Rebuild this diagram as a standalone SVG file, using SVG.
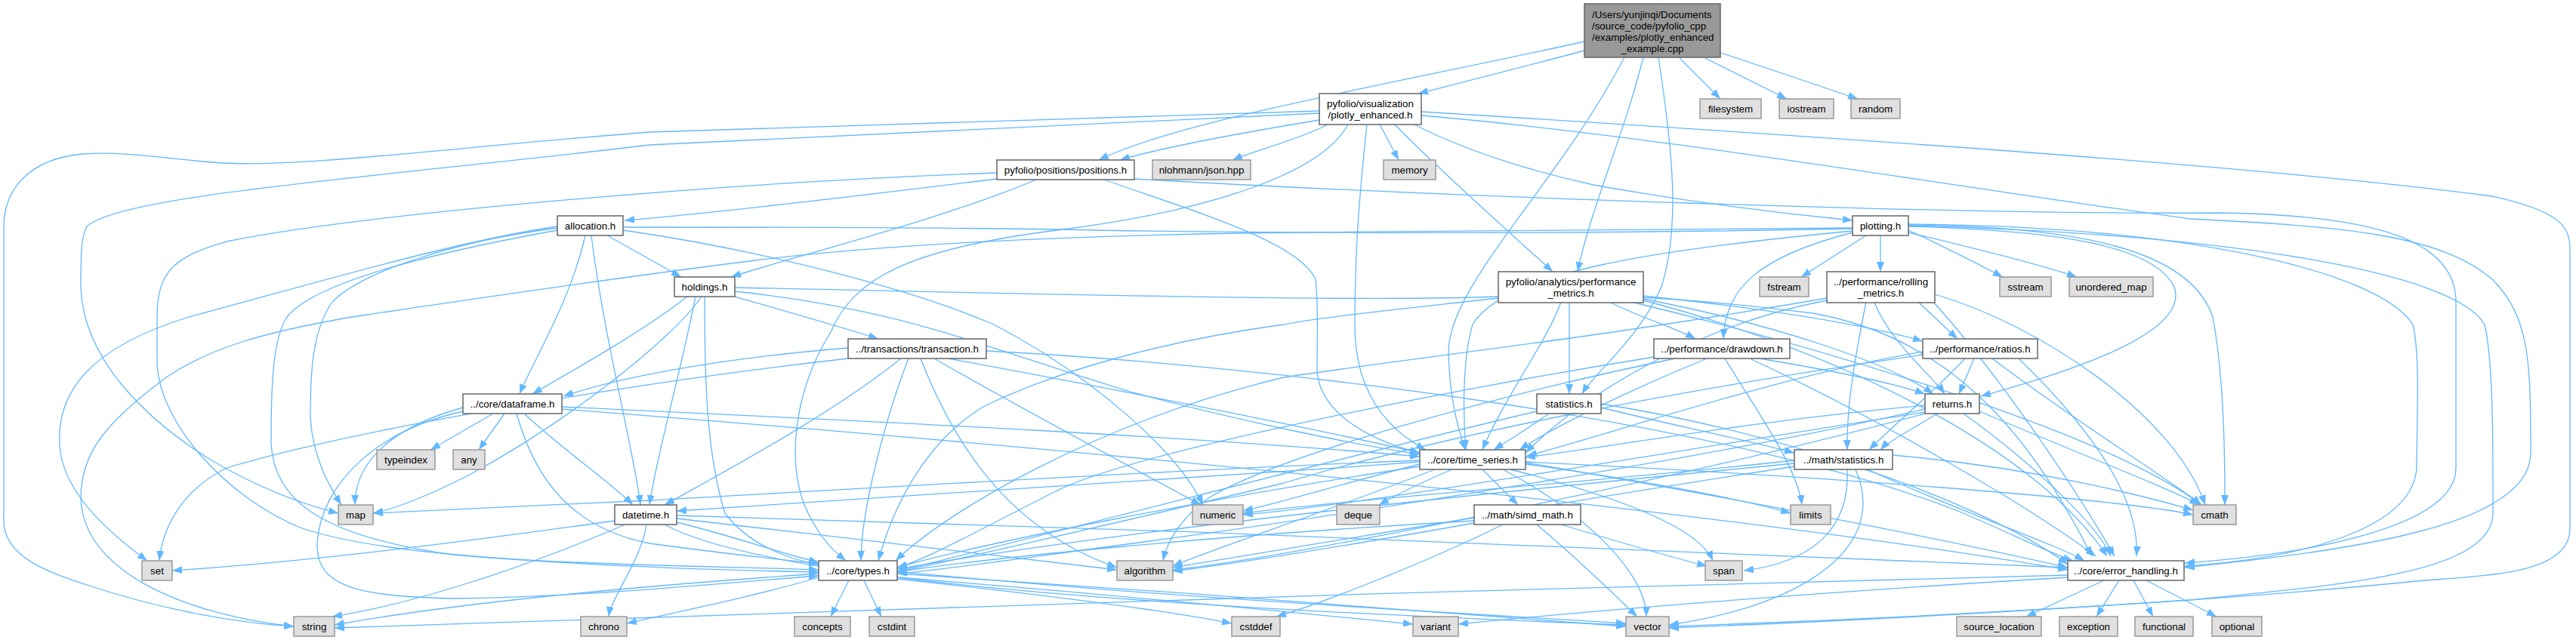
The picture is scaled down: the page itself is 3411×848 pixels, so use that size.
<svg xmlns="http://www.w3.org/2000/svg" width="3411" height="848" viewBox="0 0 3411 848">
<style>
.e{fill:none;stroke:#63b8ff;stroke-width:1.3;marker-end:url(#a)}
.doc rect{fill:#ffffff;stroke:#666666;stroke-width:1.5}
.ext rect{fill:#e0e0e0;stroke:#999999;stroke-width:1.5}
.root rect{fill:#999999;stroke:#666666;stroke-width:1.5}
text{font-family:'Liberation Sans',Arial,Helvetica,sans-serif;font-size:13.33px;fill:#000000;text-anchor:middle}
text.l{text-anchor:start}
</style>
<defs>
<marker id="a" markerWidth="13" markerHeight="10" refX="13" refY="5" orient="auto" markerUnits="userSpaceOnUse"><path d="M0,0 L13,5 L0,10 z" fill="#63b8ff"/></marker>
</defs>
<rect x="0" y="0" width="3411" height="848" fill="#ffffff"/>
<g id="edges">
<path class="e" d="M2098,67 C2020,88 1940,108 1878,124"/>
<path class="e" d="M2098,55 C1850,110 1560,160 1455,212"/>
<path class="e" d="M2151,76 C2060,250 1915,380 1918,470 C1920,530 1930,565 1940,596"/>
<path class="e" d="M2176,76 C2150,180 2105,280 2089,360"/>
<path class="e" d="M2196,76 C2215,200 2225,300 2200,380 C2170,450 2110,495 2095,522"/>
<path class="e" d="M2224,77 L2278,131"/>
<path class="e" d="M2258,77 L2366,131"/>
<path class="e" d="M2279,70 L2460,131"/>
<path class="e" d="M1747,159 C1650,175 1540,195 1483,212"/>
<path class="e" d="M1758,165 C1720,185 1660,200 1632,212"/>
<path class="e" d="M1827,165 L1852,212"/>
<path class="e" d="M1847,165 C1900,220 1990,300 2056,360"/>
<path class="e" d="M1873,165 C1950,205 2050,232 2110,245 C2250,270 2380,285 2453,292"/>
<path class="e" d="M1747,147 L860,175 C600,195 400,222 296,216 C230,212 170,200 110,204 C40,210 5,250 5,300 L5,690 C5,740 70,760 115,775 C220,810 320,826 389,830"/>
<path class="e" d="M1747,150 L860,192 C500,235 160,258 115,300 C107,315 107,340 107,380 C110,480 200,560 280,610 C340,645 400,668 448,680"/>
<path class="e" d="M1785,165 C1750,230 1600,280 1400,305 C1200,330 1130,370 1100,440 C1050,520 1040,620 1070,680 C1090,720 1110,735 1120,743"/>
<path class="e" d="M1810,165 C1800,260 1794,330 1794,430 C1794,500 1820,560 1888,596"/>
<path class="e" d="M1882,153 C2200,180 2600,250 2900,290 C3100,300 3230,310 3300,370 C3350,420 3351,480 3351,600 C3351,700 3100,730 2893,752"/>
<path class="e" d="M1882,148 C2400,180 3000,220 3300,260 C3390,280 3403,300 3403,330 L3403,700 C3403,760 3300,762 3200,770 C2900,800 2500,820 2210,830"/>
<path class="e" d="M1320,237 C1150,258 950,282 827,292"/>
<path class="e" d="M1372,238 C1250,290 1050,340 968,367"/>
<path class="e" d="M1462,238 C1580,280 1720,320 1742,370 C1746,400 1744,450 1744,490 C1746,540 1800,580 1880,600"/>
<path class="e" d="M1320,229 C1000,240 500,280 300,320 C230,340 208,360 208,420 L208,480 C210,560 300,660 400,700 C550,750 900,748 1084,755"/>
<path class="e" d="M1502,237 C1900,260 2600,285 2940,282 C3150,285 3252,320 3252,400 L3252,620 C3252,700 3050,735 2893,746"/>
<path class="e" d="M804,312 L902,367"/>
<path class="e" d="M775,312 C755,400 705,480 688,522"/>
<path class="e" d="M783,312 C800,450 840,600 848,669"/>
<path class="e" d="M738,300 C600,320 400,380 250,420 C120,460 70,520 80,600 C90,660 150,710 195,743"/>
<path class="e" d="M738,305 C600,330 420,370 380,420 C360,450 359,520 359,587 C362,660 420,710 600,735 C800,752 980,756 1084,758"/>
<path class="e" d="M825,305 C1000,330 1200,380 1316,430 C1450,500 1560,600 1593,669"/>
<path class="e" d="M2471,312 L2385,367"/>
<path class="e" d="M2490,312 L2490,360"/>
<path class="e" d="M2527,305 C2570,325 2610,345 2652,367"/>
<path class="e" d="M2527,308 C2620,330 2700,350 2750,367"/>
<path class="e" d="M2453,308 C2330,340 2285,380 2282,449"/>
<path class="e" d="M2527,300 C2700,305 2850,320 2879,380 C2900,440 2750,490 2623,525"/>
<path class="e" d="M2527,298 C2750,300 2900,330 2930,420 C2945,500 2946,600 2946,669"/>
<path class="e" d="M2527,297 C2900,300 3150,360 3195,430 C3205,470 3200,560 3200,620 C3195,700 3050,740 2893,750"/>
<path class="e" d="M2527,299 C2950,310 3250,360 3290,430 C3302,480 3301,600 3301,680 C3300,760 3100,775 2900,795 C2600,815 2400,825 2210,832"/>
<path class="e" d="M2453,302 L1710,308 C1400,312 1160,325 1000,345 C800,370 600,400 466,420 C350,440 280,460 220,500 C140,560 107,600 107,660 C110,760 250,815 389,830"/>
<path class="e" d="M2453,303 C2100,310 1700,310 1400,304 C1200,301 1000,301 825,301 L738,302 C600,320 480,360 440,400 C412,440 411,500 411,553 C414,610 440,650 452,669"/>
<path class="e" d="M2453,306 C2200,330 1990,360 1950,430 C1935,480 1938,560 1941,596"/>
<path class="e" d="M1984,395 C1850,410 1750,420 1700,430 C1550,450 1400,490 1300,540 C1220,590 1180,680 1163,743"/>
<path class="e" d="M2067,400 C2050,450 1990,530 1963,596"/>
<path class="e" d="M2078,400 L2078,522"/>
<path class="e" d="M2131,400 C2170,420 2220,435 2245,449"/>
<path class="e" d="M2176,392 C2300,405 2450,425 2546,452"/>
<path class="e" d="M2176,396 C2350,430 2500,480 2560,522"/>
<path class="e" d="M2176,398 C2450,470 2700,600 2790,737"/>
<path class="e" d="M2160,400 C2450,470 2800,580 2915,669"/>
<path class="e" d="M2540,400 L2592,449"/>
<path class="e" d="M2471,400 C2455,480 2445,540 2446,596"/>
<path class="e" d="M2419,398 C2250,430 2100,520 2020,600"/>
<path class="e" d="M2419,395 C2100,450 1900,470 1700,500 C1450,560 1250,680 1186,743"/>
<path class="e" d="M2560,400 C2650,500 2750,650 2800,737"/>
<path class="e" d="M2562,390 C2700,430 2880,550 2920,669"/>
<path class="e" d="M2482,400 C2500,450 2560,500 2575,522"/>
<path class="e" d="M2190,473 C1900,520 1500,600 1400,650 C1300,700 1230,740 1188,752"/>
<path class="e" d="M2260,475 C2150,520 2050,570 2012,596"/>
<path class="e" d="M2284,475 C2330,550 2380,620 2386,669"/>
<path class="e" d="M2330,475 C2420,490 2500,505 2549,522"/>
<path class="e" d="M2317,475 C2500,560 2700,680 2775,737"/>
<path class="e" d="M2218,475 C2000,520 1700,600 1600,660 C1560,690 1545,720 1540,743"/>
<path class="e" d="M2546,466 C2350,500 2150,570 2022,604"/>
<path class="e" d="M2546,470 C2200,520 1900,580 1700,640 C1450,700 1250,745 1188,758"/>
<path class="e" d="M2602,475 C2560,520 2500,570 2475,596"/>
<path class="e" d="M2614,475 L2594,522"/>
<path class="e" d="M2638,475 C2750,560 2880,640 2915,669"/>
<path class="e" d="M2673,475 C2750,550 2835,650 2829,737"/>
<path class="e" d="M2035,545 C1800,600 1500,680 1188,757"/>
<path class="e" d="M2051,548 C2020,570 1995,585 1978,596"/>
<path class="e" d="M2120,540 C2200,560 2300,580 2376,600"/>
<path class="e" d="M2120,535 C2400,580 2650,680 2738,748"/>
<path class="e" d="M2549,537 C2300,560 2150,590 2020,606"/>
<path class="e" d="M2565,548 C2530,570 2500,585 2490,596"/>
<path class="e" d="M2600,548 C2700,620 2780,700 2795,737"/>
<path class="e" d="M2621,545 C2750,600 2880,650 2912,669"/>
<path class="e" d="M2549,542 C2300,600 1800,680 1500,720 C1350,740 1250,755 1188,760"/>
<path class="e" d="M2549,546 C2200,600 1800,670 1646,682"/>
<path class="e" d="M2549,548 C2200,640 1700,740 1553,755"/>
<path class="e" d="M1880,612 C1500,640 1100,665 896,677"/>
<path class="e" d="M2020,613 C2300,660 2600,720 2738,752"/>
<path class="e" d="M1880,618 C1600,660 1300,720 1188,752"/>
<path class="e" d="M1963,622 L2010,669"/>
<path class="e" d="M1900,622 C1750,680 1600,730 1553,750"/>
<path class="e" d="M1923,622 C1880,640 1850,655 1826,669"/>
<path class="e" d="M2020,615 C2200,640 2320,665 2371,680"/>
<path class="e" d="M1880,615 C1780,640 1700,665 1646,677"/>
<path class="e" d="M2000,622 C2150,660 2250,700 2268,743"/>
<path class="e" d="M1990,622 C2100,680 2180,760 2180,817"/>
<path class="e" d="M1880,610 C1500,625 1100,650 860,663 L494,680"/>
<path class="e" d="M2020,612 C2400,630 2800,660 2904,682"/>
<path class="e" d="M2376,614 C2000,650 1500,700 1188,754"/>
<path class="e" d="M2376,618 C2100,660 1750,720 1553,752"/>
<path class="e" d="M2376,610 C2100,640 1800,660 1646,680"/>
<path class="e" d="M2446,622 C2450,700 2400,745 2309,756"/>
<path class="e" d="M2457,622 C2500,720 2400,800 2210,828"/>
<path class="e" d="M2506,603 C2700,620 2850,660 2904,676"/>
<path class="e" d="M2473,622 C2600,680 2720,720 2760,743"/>
<path class="e" d="M1952,690 C1600,710 1300,740 1188,758"/>
<path class="e" d="M1952,693 C1800,720 1650,745 1553,757"/>
<path class="e" d="M1990,695 C1900,740 1750,800 1690,817"/>
<path class="e" d="M2035,695 C2100,750 2150,800 2168,817"/>
<path class="e" d="M2067,695 C2150,720 2220,740 2260,750"/>
<path class="e" d="M973,393 C1050,415 1120,435 1163,449"/>
<path class="e" d="M910,393 C850,440 760,490 705,522"/>
<path class="e" d="M921,393 C900,500 870,600 860,669"/>
<path class="e" d="M929,393 C890,450 750,560 620,630 C560,660 520,675 494,680"/>
<path class="e" d="M933,393 C933,500 935,600 960,680 C990,720 1040,740 1084,748"/>
<path class="e" d="M973,386 C1200,410 1300,460 1500,520 C1650,560 1800,590 1880,602"/>
<path class="e" d="M973,381 C1400,390 1800,400 1984,393 C2100,390 2200,390 2400,415 C2600,450 2700,600 2770,737"/>
<path class="e" d="M1123,461 C950,475 820,500 746,525"/>
<path class="e" d="M1123,475 C900,500 500,560 300,620 C240,650 215,700 211,743"/>
<path class="e" d="M1193,475 C1100,550 950,630 880,669"/>
<path class="e" d="M1203,475 C1170,560 1140,680 1140,743"/>
<path class="e" d="M1219,475 C1260,580 1330,700 1479,752"/>
<path class="e" d="M1237,475 C1350,540 1500,620 1590,669"/>
<path class="e" d="M1256,475 C1500,520 1750,570 1880,600"/>
<path class="e" d="M1306,465 C1700,485 2300,560 2600,680 C2680,715 2720,735 2745,743"/>
<path class="e" d="M613,540 C540,560 470,600 470,669"/>
<path class="e" d="M653,548 L570,596"/>
<path class="e" d="M668,548 L634,596"/>
<path class="e" d="M613,545 C500,570 425,640 420,720 C418,780 480,790 600,793 C800,790 980,770 1084,763"/>
<path class="e" d="M694,548 C750,600 810,640 838,669"/>
<path class="e" d="M744,539 C1200,560 1600,580 1880,605"/>
<path class="e" d="M744,542 C1500,600 2300,680 2738,755"/>
<path class="e" d="M684,548 C710,640 760,700 860,720 C1300,780 1900,810 2153,826"/>
<path class="e" d="M814,690 C600,720 400,745 228,756"/>
<path class="e" d="M828,695 C700,750 550,800 440,817"/>
<path class="e" d="M856,695 C850,740 810,790 806,817"/>
<path class="e" d="M896,692 C970,710 1040,735 1084,745"/>
<path class="e" d="M896,687 C1100,710 1350,740 1479,755"/>
<path class="e" d="M896,683 C1500,700 2300,730 2738,752"/>
<path class="e" d="M880,695 C1000,760 1400,800 2153,828"/>
<path class="e" d="M1084,765 C1000,790 900,810 830,826"/>
<path class="e" d="M1124,769 L1100,817"/>
<path class="e" d="M1144,769 L1167,817"/>
<path class="e" d="M1084,760 C800,780 600,800 443,828"/>
<path class="e" d="M1188,760 C1500,780 1900,810 2153,830"/>
<path class="e" d="M1188,765 C1500,790 1750,815 1871,827"/>
<path class="e" d="M1188,767 C1400,790 1550,810 1631,826"/>
<path class="e" d="M2786,769 L2683,817"/>
<path class="e" d="M2806,769 L2776,817"/>
<path class="e" d="M2825,769 L2851,817"/>
<path class="e" d="M2842,769 L2935,817"/>
<path class="e" d="M2738,762 C2000,780 1000,810 443,832"/>
<path class="e" d="M2738,765 C2400,785 2100,810 1931,827"/>
</g>
<g id="n_top" class="root"><rect x="2098" y="5" width="180" height="71"/><text class="l" x="2108" y="24">/Users/yunjinqi/Documents</text><text class="l" x="2108" y="39">/source_code/pyfolio_cpp</text><text class="l" x="2108" y="54">/examples/plotly_enhanced</text><text x="2188" y="69">_example.cpp</text></g>
<g id="n_plotly_enhanced" class="doc"><rect x="1747" y="124" width="135" height="41"/><text x="1814.5" y="142">pyfolio/visualization</text><text x="1814.5" y="157">/plotly_enhanced.h</text></g>
<g id="n_filesystem" class="ext"><rect x="2251" y="131" width="81" height="26"/><text x="2291.5" y="149">filesystem</text></g>
<g id="n_iostream" class="ext"><rect x="2356" y="131" width="72" height="26"/><text x="2392" y="149">iostream</text></g>
<g id="n_random" class="ext"><rect x="2451" y="131" width="65" height="26"/><text x="2483.5" y="149">random</text></g>
<g id="n_positions" class="doc"><rect x="1320" y="212" width="182" height="26"/><text x="1411" y="230">pyfolio/positions/positions.h</text></g>
<g id="n_json" class="ext"><rect x="1526" y="212" width="130" height="26"/><text x="1591" y="230">nlohmann/json.hpp</text></g>
<g id="n_memory" class="ext"><rect x="1832" y="212" width="69" height="26"/><text x="1866.5" y="230">memory</text></g>
<g id="n_allocation" class="doc"><rect x="738" y="286" width="87" height="26"/><text x="781.5" y="304">allocation.h</text></g>
<g id="n_plotting" class="doc"><rect x="2453" y="286" width="74" height="26"/><text x="2490" y="304">plotting.h</text></g>
<g id="n_perf_metrics" class="doc"><rect x="1984" y="360" width="192" height="41"/><text x="2080" y="378">pyfolio/analytics/performance</text><text x="2080" y="393">_metrics.h</text></g>
<g id="n_holdings" class="doc"><rect x="893" y="367" width="80" height="26"/><text x="933" y="385">holdings.h</text></g>
<g id="n_fstream" class="ext"><rect x="2330" y="367" width="65" height="26"/><text x="2362.5" y="385">fstream</text></g>
<g id="n_rolling" class="doc"><rect x="2419" y="360" width="143" height="41"/><text x="2490.5" y="378">../performance/rolling</text><text x="2490.5" y="393">_metrics.h</text></g>
<g id="n_sstream" class="ext"><rect x="2648" y="367" width="68" height="26"/><text x="2682" y="385">sstream</text></g>
<g id="n_unordered_map" class="ext"><rect x="2740" y="367" width="111" height="26"/><text x="2795.5" y="385">unordered_map</text></g>
<g id="n_transaction" class="doc"><rect x="1123" y="449" width="183" height="26"/><text x="1214.5" y="467">../transactions/transaction.h</text></g>
<g id="n_drawdown" class="doc"><rect x="2190" y="449" width="180" height="26"/><text x="2280" y="467">../performance/drawdown.h</text></g>
<g id="n_ratios" class="doc"><rect x="2546" y="449" width="152" height="26"/><text x="2622" y="467">../performance/ratios.h</text></g>
<g id="n_dataframe" class="doc"><rect x="613" y="522" width="131" height="26"/><text x="678.5" y="540">../core/dataframe.h</text></g>
<g id="n_statistics" class="doc"><rect x="2035" y="522" width="85" height="26"/><text x="2077.5" y="540">statistics.h</text></g>
<g id="n_returns" class="doc"><rect x="2549" y="522" width="72" height="26"/><text x="2585" y="540">returns.h</text></g>
<g id="n_typeindex" class="ext"><rect x="499" y="596" width="77" height="26"/><text x="537.5" y="614">typeindex</text></g>
<g id="n_any" class="ext"><rect x="600" y="596" width="42" height="26"/><text x="621" y="614">any</text></g>
<g id="n_time_series" class="doc"><rect x="1880" y="596" width="140" height="26"/><text x="1950" y="614">../core/time_series.h</text></g>
<g id="n_math_statistics" class="doc"><rect x="2376" y="596" width="130" height="26"/><text x="2441" y="614">../math/statistics.h</text></g>
<g id="n_map" class="ext"><rect x="448" y="669" width="46" height="26"/><text x="471" y="687">map</text></g>
<g id="n_datetime" class="doc"><rect x="814" y="669" width="82" height="26"/><text x="855" y="687">datetime.h</text></g>
<g id="n_numeric" class="ext"><rect x="1579" y="669" width="67" height="26"/><text x="1612.5" y="687">numeric</text></g>
<g id="n_deque" class="ext"><rect x="1770" y="669" width="57" height="26"/><text x="1798.5" y="687">deque</text></g>
<g id="n_simd_math" class="doc"><rect x="1952" y="669" width="141" height="26"/><text x="2022.5" y="687">../math/simd_math.h</text></g>
<g id="n_limits" class="ext"><rect x="2371" y="669" width="53" height="26"/><text x="2397.5" y="687">limits</text></g>
<g id="n_cmath" class="ext"><rect x="2904" y="669" width="57" height="26"/><text x="2932.5" y="687">cmath</text></g>
<g id="n_set" class="ext"><rect x="188" y="743" width="40" height="26"/><text x="208" y="761">set</text></g>
<g id="n_types" class="doc"><rect x="1084" y="743" width="104" height="26"/><text x="1136" y="761">../core/types.h</text></g>
<g id="n_algorithm" class="ext"><rect x="1479" y="743" width="74" height="26"/><text x="1516" y="761">algorithm</text></g>
<g id="n_span" class="ext"><rect x="2258" y="743" width="49" height="26"/><text x="2282.5" y="761">span</text></g>
<g id="n_error_handling" class="doc"><rect x="2738" y="743" width="154" height="26"/><text x="2815" y="761">../core/error_handling.h</text></g>
<g id="n_string" class="ext"><rect x="389" y="817" width="54" height="26"/><text x="416" y="835">string</text></g>
<g id="n_chrono" class="ext"><rect x="769" y="817" width="61" height="26"/><text x="799.5" y="835">chrono</text></g>
<g id="n_concepts" class="ext"><rect x="1052" y="817" width="74" height="26"/><text x="1089" y="835">concepts</text></g>
<g id="n_cstdint" class="ext"><rect x="1151" y="817" width="60" height="26"/><text x="1181" y="835">cstdint</text></g>
<g id="n_variant" class="ext"><rect x="1871" y="817" width="60" height="26"/><text x="1901" y="835">variant</text></g>
<g id="n_cstddef" class="ext"><rect x="1631" y="817" width="64" height="26"/><text x="1663" y="835">cstddef</text></g>
<g id="n_vector" class="ext"><rect x="2153" y="817" width="57" height="26"/><text x="2181.5" y="835">vector</text></g>
<g id="n_source_location" class="ext"><rect x="2591" y="817" width="112" height="26"/><text x="2647" y="835">source_location</text></g>
<g id="n_exception" class="ext"><rect x="2727" y="817" width="77" height="26"/><text x="2765.5" y="835">exception</text></g>
<g id="n_functional" class="ext"><rect x="2827" y="817" width="77" height="26"/><text x="2865.5" y="835">functional</text></g>
<g id="n_optional" class="ext"><rect x="2929" y="817" width="66" height="26"/><text x="2962" y="835">optional</text></g>
</svg>
